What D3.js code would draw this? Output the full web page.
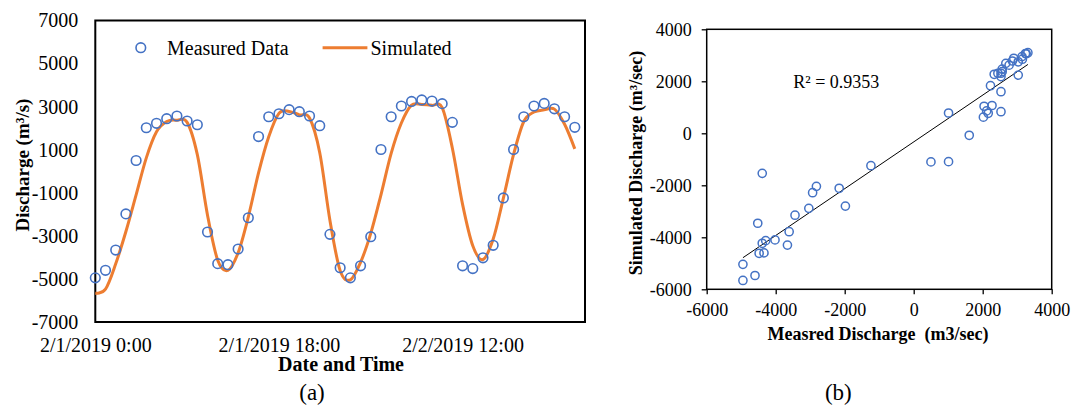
<!DOCTYPE html>
<html>
<head>
<meta charset="utf-8">
<script src="https://cdn.jsdelivr.net/npm/d3@7"></script>
<style>
  body { margin: 0; background: #fff; }
  svg { display: block; font-family: "Liberation Serif", "Times New Roman", serif; }
</style>
</head>
<body>
<svg id="chart" width="1073" height="407"></svg>
<script>
// Hourly discharge, 2/1/2019 0:00 through 2/2/2019 23:00 (m3/s)
const measured = [
  -4950, -4600, -3660, -1980, 500, 2020, 2226, 2440, 2565, 2333, 2160, -2820,
  -4290, -4340, -3610, -2160, 1610, 2530, 2670, 2860, 2765, 2565, 2115, -2930,
  -4480, -4950, -4390, -3040, 1010, 2530, 3030, 3240, 3310, 3260, 3140, 2270,
  -4390, -4520, -4020, -3440, -1240, 1010, 2530, 3030, 3150, 2900, 2530, 2040
];
const simulated = [
  -5660, -5470, -4300, -2800, -1100, 620, 1830, 2310, 2370, 2270, 770, -2040,
  -4130, -4600, -3785, -2115, -77, 1600, 2690, 2780, 2620, 2470, 860, -2285,
  -4615, -5040, -4230, -2885, -1092, 830, 2240, 3070, 3100, 3060, 2950, 1070,
  -1540, -3460, -4100, -3150, -1246, 781, 2310, 2750, 2850, 2885, 2180, 1040
];
const hours = measured.map((_, i) => i);

const timeTickHours = [0, 18, 36];
const timeTickLabels = ["2/1/2019 0:00", "2/1/2019 18:00", "2/2/2019 12:00"];
const dischargeTicks = [-7000, -5000, -3000, -1000, 1000, 3000, 5000, 7000];
const scatterTicks = [-6000, -4000, -2000, 0, 2000, 4000];
const rSquaredLabel = "R\u00b2 = 0.9353";

const BLUE = "#4472C4";
const ORANGE = "#ED7D31";

const svg = d3.select("#chart");
svg.append("rect").attr("width", 1073).attr("height", 407).attr("fill", "#fff");

// ---------- (a) time series ----------
const xL = d3.scaleLinear().domain([0, 48]).range([95.3, 585]);
const yL = d3.scaleLinear().domain([-7000, 7000]).range([322, 20.5]);

const gA = svg.append("g");

gA.append("g")
  .attr("transform", `translate(${xL(0)},0)`)
  .call(d3.axisLeft(yL).tickValues(dischargeTicks).tickSize(0).tickPadding(17).tickFormat(d => String(d)))
  .call(g => g.select(".domain").remove())
  .selectAll("text")
  .attr("font-family", "Liberation Serif").attr("font-size", 20).attr("fill", "#000");

gA.append("g")
  .attr("transform", `translate(0,${yL(-7000)})`)
  .call(d3.axisBottom(xL).tickValues(timeTickHours).tickSize(0).tickPadding(16)
    .tickFormat((d, i) => timeTickLabels[i]))
  .call(g => g.select(".domain").remove())
  .selectAll("text")
  .attr("font-family", "Liberation Serif").attr("font-size", 20).attr("fill", "#000");

gA.append("rect")
  .attr("x", xL(0)).attr("y", yL(7000))
  .attr("width", xL(48) - xL(0)).attr("height", yL(-7000) - yL(7000))
  .attr("fill", "none").attr("stroke", "#000").attr("stroke-width", 2);

const simLine = d3.line()
  .x(i => xL(i))
  .y(i => yL(simulated[i]))
  .curve(d3.curveCardinal.tension(0));

gA.append("path")
  .datum(hours)
  .attr("d", simLine)
  .attr("fill", "none")
  .attr("stroke", ORANGE)
  .attr("stroke-width", 3)
  .attr("stroke-linejoin", "round");

gA.append("g").selectAll("circle")
  .data(hours)
  .join("circle")
  .attr("cx", i => xL(i))
  .attr("cy", i => yL(measured[i]))
  .attr("r", 4.8)
  .attr("fill", "none")
  .attr("stroke", BLUE)
  .attr("stroke-width", 1.6);

// legend
const legA = gA.append("g").attr("font-size", 20);
legA.append("circle").attr("cx", 140.8).attr("cy", 47.7).attr("r", 4.8)
  .attr("fill", "none").attr("stroke", BLUE).attr("stroke-width", 1.6);
legA.append("text").attr("x", 167).attr("y", 54.5).text("Measured Data");
legA.append("line").attr("x1", 322.6).attr("x2", 367.4).attr("y1", 47.7).attr("y2", 47.7)
  .attr("stroke", ORANGE).attr("stroke-width", 3);
legA.append("text").attr("x", 370.5).attr("y", 54.5).text("Simulated");

gA.append("text")
  .attr("x", 341).attr("y", 371)
  .attr("text-anchor", "middle").attr("font-weight", "bold").attr("font-size", 20)
  .text("Date and Time");

gA.append("text")
  .attr("transform", "translate(29,165) rotate(-90)")
  .attr("text-anchor", "middle").attr("font-weight", "bold").attr("font-size", 19)
  .text("Discharge (m\u00b3/s)");

gA.append("text")
  .attr("x", 312).attr("y", 400)
  .attr("text-anchor", "middle").attr("font-size", 23)
  .text("(a)");

// ---------- (b) simulated vs measured ----------
const xR = d3.scaleLinear().domain([-6000, 4000]).range([706.7, 1051.7]);
const yR = d3.scaleLinear().domain([-6000, 4000]).range([289.3, 29.3]);

const gB = svg.append("g");

gB.append("g")
  .attr("transform", `translate(${xR(-6000)},0)`)
  .call(d3.axisLeft(yR).tickValues(scatterTicks).tickSize(5).tickPadding(10).tickFormat(d => String(d)))
  .call(g => g.select(".domain").remove())
  .call(g => g.selectAll("line").attr("stroke", "#000").attr("stroke-width", 1.3))
  .selectAll("text")
  .attr("font-family", "Liberation Serif").attr("font-size", 18).attr("fill", "#000");

gB.append("g")
  .attr("transform", `translate(0,${yR(-6000)})`)
  .call(d3.axisBottom(xR).tickValues(scatterTicks).tickSize(5).tickPadding(9).tickFormat(d => String(d)))
  .call(g => g.select(".domain").remove())
  .call(g => g.selectAll("line").attr("stroke", "#000").attr("stroke-width", 1.3))
  .selectAll("text")
  .attr("font-family", "Liberation Serif").attr("font-size", 18).attr("fill", "#000");

gB.append("rect")
  .attr("x", xR(-6000)).attr("y", yR(4000))
  .attr("width", xR(4000) - xR(-6000)).attr("height", yR(-6000) - yR(4000))
  .attr("fill", "none").attr("stroke", "#000").attr("stroke-width", 1.5);

// least-squares trend line over the measured range
const mx = d3.mean(measured), my = d3.mean(simulated);
const sxy = d3.sum(hours, i => (measured[i] - mx) * (simulated[i] - my));
const sxx = d3.sum(hours, i => (measured[i] - mx) ** 2);
const slope = sxy / sxx, intercept = my - slope * mx;
const [xmin, xmax] = d3.extent(measured);

gB.append("line")
  .attr("x1", xR(xmin)).attr("y1", yR(intercept + slope * xmin))
  .attr("x2", xR(xmax)).attr("y2", yR(intercept + slope * xmax))
  .attr("stroke", "#000").attr("stroke-width", 1);

gB.append("g").selectAll("circle")
  .data(hours)
  .join("circle")
  .attr("cx", i => xR(measured[i]))
  .attr("cy", i => yR(simulated[i]))
  .attr("r", 4.1)
  .attr("fill", "none")
  .attr("stroke", BLUE)
  .attr("stroke-width", 1.5);

gB.append("text")
  .attr("x", 793.3).attr("y", 87.5)
  .attr("font-size", 18)
  .text(rSquaredLabel);

gB.append("text")
  .attr("x", 878).attr("y", 340)
  .attr("text-anchor", "middle").attr("font-weight", "bold").attr("font-size", 18)
  .style("white-space", "pre")
  .text("Measred Discharge  (m3/sec)");

gB.append("text")
  .attr("transform", "translate(642,163) rotate(-90)")
  .attr("text-anchor", "middle").attr("font-weight", "bold").attr("font-size", 18)
  .text("Simulated Discharge (m\u00b3/sec)");

gB.append("text")
  .attr("x", 838.3).attr("y", 400)
  .attr("text-anchor", "middle").attr("font-size", 23)
  .text("(b)");
</script>
</body>
</html>
